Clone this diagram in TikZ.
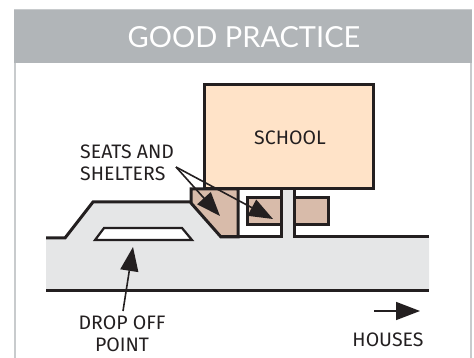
\documentclass[tikz,border=0pt]{standalone}
\usepackage{fontspec}
\setmainfont{Fira Sans}
\newfontfamily\titlefont{Lato}
\usetikzlibrary{arrows.meta}
\definecolor{framegrey}{HTML}{B1B5B8}
\definecolor{roadgrey}{HTML}{E5E6E7}
\definecolor{schoolpeach}{HTML}{FFE3C8}
\definecolor{shelterbrown}{HTML}{D8BBAA}
\definecolor{inkdark}{HTML}{231F20}
\tikzset{
    outline/.style={draw=inkdark, line width=3pt, line join=miter},
    pointer/.style={draw=inkdark, line width=1.6pt, -{Triangle[length=24pt,width=18pt]}},
    caption/.style={font=\fontsize{19.5}{22}\selectfont, text=inkdark, inner sep=0pt}
}
\begin{document}
\begin{tikzpicture}[x=1pt, y=-1pt]
    \useasboundingbox (0,0) rectangle (474,358);
    % Frame and banner
    \draw[framegrey!70, line width=1.5pt] (15,358) -- (15,10) -- (471,10) -- (471,358);
    \fill[framegrey] (14,10) rectangle (472,63);
    \node[font=\titlefont\fontsize{29}{30}\selectfont, text=white] (title) at (244,37) {GOOD PRACTICE};
    % Road surface
    \fill[roadgrey] (46,238) -- (65,238) -- (93,202) -- (191,202) -- (221,237) -- (294,237)
        -- (429,237) -- (429,290) -- (46,290) -- cycle;
    \fill[roadgrey] (281,189) rectangle (294,237);
    % Seats and shelters
    \fill[shelterbrown] (191,189) -- (238,189) -- (238,237) -- (221,237) -- (191,203) -- cycle;
    \fill[shelterbrown] (247,198) rectangle (281,225);
    \fill[shelterbrown] (294,198) rectangle (328,225);
    \draw[outline] (191,189) -- (238,189) -- (238,237) -- (221,237) -- (191,203) -- cycle;
    \draw[outline] (247,198) rectangle (281,225);
    \draw[outline] (294,198) rectangle (328,225);
    % School
    \fill[schoolpeach] (204,85) rectangle (373,189);
    \draw[outline] (204,85) rectangle (373,189);
    % Road edges
    \draw[outline] (46,238) -- (65,238) -- (93,202) -- (191,202);
    \draw[outline] (221,237) -- (281,237) -- (281,189);
    \draw[outline] (294,189) -- (294,237) -- (429,237);
    \draw[outline] (46,290.5) -- (429,290.5);
    \fill[white] (104,228) -- (182,228) -- (192,240) -- (95,240) -- cycle;
    \draw[outline, line width=2.2pt] (104,228) -- (182,228) -- (192,240) -- (95,240) -- cycle;
    % Labels
    \node[caption, align=left, anchor=west] (seats) at (80,163) {SEATS AND\\SHELTERS};
    \node[caption] (school) at (290,138) {SCHOOL};
    \node[caption, align=center] (dropoff) at (122,334) {DROP OFF\\POINT};
    \node[caption] (houses) at (388,340) {HOUSES};
    % Arrows
    \coordinate (seatsfrom) at (176,167);
    \coordinate (shelterbig) at (220,216);
    \coordinate (shelterbox) at (273,219);
    \coordinate (dropfrom) at (123,311);
    \coordinate (dropbay) at (133,247);
    \coordinate (housesfrom) at (374,311);
    \coordinate (housesto) at (420,311);
    \draw[pointer] (seatsfrom) -- (shelterbig);
    \draw[pointer] (seatsfrom) -- (shelterbox);
    \draw[pointer] (dropfrom) -- (dropbay);
    \draw[pointer] (housesfrom) -- (housesto);
\end{tikzpicture}
\end{document}
